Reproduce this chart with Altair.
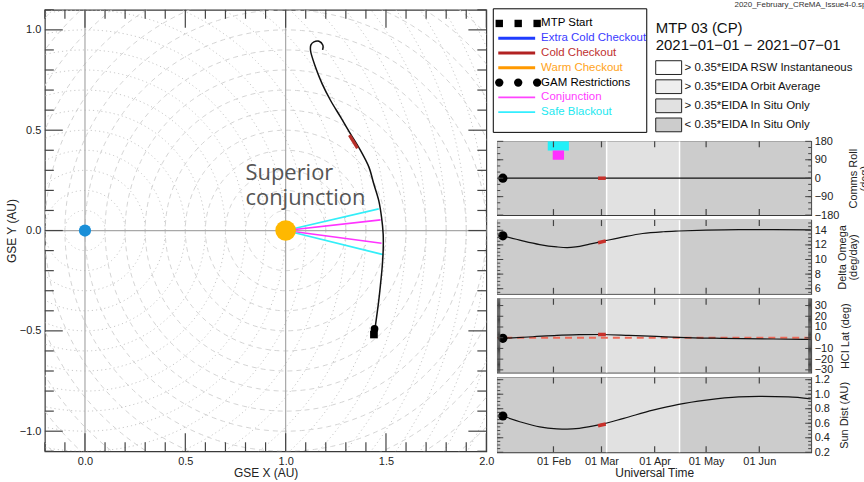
import altair as alt
import numpy as np
import pandas as pd

FONT = "Liberation Sans"

# ===================== DATA =====================
# --- spacecraft trajectory in GSE coordinates (AU) ---
traj_x = [1.444, 1.464, 1.473, 1.481, 1.486, 1.486, 1.478, 1.464, 1.439, 1.415,
          1.373, 1.323, 1.274, 1.224, 1.182, 1.149, 1.124, 1.126, 1.141, 1.166, 1.185, 1.184]
traj_y = [-0.498, -0.349, -0.266, -0.183, -0.100, -0.017, 0.066, 0.149, 0.233, 0.316,
          0.399, 0.482, 0.565, 0.648, 0.731, 0.814, 0.897, 0.925, 0.940, 0.943, 0.925, 0.900]
cold_x = [1.318, 1.338, 1.358]
cold_y = [0.475, 0.443, 0.410]
ray_kind = ["Safe Blackout", "Conjunction", "Conjunction", "Safe Blackout"]
ray_end_x = [1.464, 1.473, 1.478, 1.486]
ray_end_y = [0.108, 0.053, -0.063, -0.120]
body_names = ["Earth", "Sun"]
body_x = [0.0, 1.0]
body_y = [0.0, 0.0]
mtp_start_x = [1.440]
mtp_start_y = [-0.518]
gam_x = [1.443]
gam_y = [-0.490]
note_lines = ["Superior", "conjunction"]
note_x = [0.80]
note_y = [0.25]

# --- time panels ---
levels = ["> 0.35*EIDA RSW Instantaneous", "> 0.35*EIDA Orbit Average",
          "> 0.35*EIDA In Situ Only", "< 0.35*EIDA In Situ Only"]
level_colors = ["#ffffff", "#eeeeee", "#e1e1e1", "#cccccc"]
shade_start = ["2020-12-30T06:00:00Z", "2021-03-04T00:00:00Z", "2021-04-15T12:00:00Z"]
shade_end = ["2021-03-04T00:00:00Z", "2021-04-15T12:00:00Z", "2021-07-01T06:00:00Z"]
shade_level = [levels[3], levels[2], levels[3]]
month_starts = ["2021-02-01T00:00:00Z", "2021-03-01T00:00:00Z", "2021-04-01T00:00:00Z",
                "2021-05-01T00:00:00Z", "2021-06-01T00:00:00Z"]

start_date = "2021-01-02T12:00:00Z"
cold_dates = ["2021-02-27T00:00:00Z", "2021-03-03T12:00:00Z"]

roll_dates = [start_date, "2021-07-01T00:00:00Z"]
roll_vals = [0, 0]
roll_cold = [0, 0]
band_name = ["Safe Blackout", "Conjunction"]
band_start = ["2021-01-28T16:00:00Z", "2021-01-31T14:00:00Z"]
band_end = ["2021-02-10T00:00:00Z", "2021-02-07T04:00:00Z"]
band_lo = [135, 90]
band_hi = [180, 135]
band_color = ["#22f0f8", "#ff30ff"]

dom_dates = [start_date, "2021-01-14T00:00:00Z", "2021-01-24T00:00:00Z", "2021-02-03T00:00:00Z",
             "2021-02-09T00:00:00Z", "2021-02-14T00:00:00Z", "2021-02-22T00:00:00Z",
             "2021-03-02T00:00:00Z", "2021-03-14T00:00:00Z", "2021-03-25T00:00:00Z",
             "2021-04-06T00:00:00Z", "2021-04-15T00:00:00Z", "2021-05-01T00:00:00Z",
             "2021-05-20T00:00:00Z", "2021-06-09T00:00:00Z", "2021-07-01T00:00:00Z"]
dom_vals = [13.24, 12.55, 12.04, 11.72, 11.63, 11.72, 12.1, 12.5, 13.1, 13.56, 13.8, 13.9,
            14.03, 14.1, 14.1, 14.07]
dom_cold = [12.3, 12.55]

hci_dates = [start_date, "2021-01-20T00:00:00Z", "2021-02-03T00:00:00Z", "2021-02-16T00:00:00Z",
             "2021-02-28T00:00:00Z", "2021-03-17T00:00:00Z", "2021-04-02T00:00:00Z",
             "2021-04-15T00:00:00Z", "2021-05-10T00:00:00Z", "2021-06-09T00:00:00Z",
             "2021-07-01T00:00:00Z"]
hci_vals = [-0.6, 0.9, 2.2, 2.8, 3.0, 2.2, 1.2, 0.3, -0.6, -1.2, -1.6]
hci_cold = [3.0, 3.0]
hci_ref = [0]

sd_dates = [start_date, "2021-01-14T00:00:00Z", "2021-01-24T00:00:00Z", "2021-02-03T00:00:00Z",
            "2021-02-09T00:00:00Z", "2021-02-16T00:00:00Z", "2021-02-28T00:00:00Z",
            "2021-03-14T00:00:00Z", "2021-03-31T00:00:00Z", "2021-04-15T00:00:00Z",
            "2021-05-01T00:00:00Z", "2021-05-20T00:00:00Z", "2021-06-01T00:00:00Z",
            "2021-06-18T00:00:00Z", "2021-07-01T00:00:00Z"]
sd_vals = [0.70, 0.61, 0.55, 0.523, 0.519, 0.53, 0.58, 0.668, 0.78, 0.86, 0.918, 0.963,
           0.97, 0.963, 0.936]
sd_cold = [0.565, 0.59]

# --- legend ---
legend_names = ["MTP Start", "Extra Cold Checkout", "Cold Checkout", "Warm Checkout",
                "GAM Restrictions", "Conjunction", "Safe Blackout"]
legend_text_colors = ["#000000", "#3a3aff", "#c03030", "#ffa31a", "#000000", "#ff3cff", "#22e8f0"]
legend_line_rows = [1, 2, 3, 5, 6]
legend_line_colors = ["#1f3cff", "#b22222", "#ff9900", "#ff44ff", "#33eeff"]
legend_line_widths = [3, 3, 3, 1.6, 1.6]
title_lines = ["MTP 03 (CP)", "2021\u221201\u221201 \u2212 2021\u221207\u221201"]
file_tag = "2020_February_CReMA_Issue4-0.sp"

# ===================== LEFT PANEL =====================
W0 = H0 = 443
xsc = alt.Scale(domain=[-0.2, 2.0], nice=False, zero=False)
ysc = alt.Scale(domain=[-1.1, 1.1], nice=False, zero=False)

theta = np.linspace(0, 2 * np.pi, 241)


def rings(cx, cy, radii, tag):
    rows = []
    for r in radii:
        for k, t in enumerate(theta):
            rows.append({"ring": f"{tag}{r:.1f}", "k": k,
                         "x": cx + r * np.cos(t), "y": cy + r * np.sin(t)})
    return pd.DataFrame(rows)


earth_rings = rings(body_x[0], body_y[0], np.round(np.arange(0.1, 2.35, 0.1), 1), "E")
sun_rings = rings(body_x[1], body_y[1], np.round(np.arange(0.1, 1.75, 0.1), 1), "S")

xaxis_left = alt.Axis(values=[0, 0.5, 1, 1.5, 2], format=".1f", ticks=False, tickSize=0,
                      domain=False, labelPadding=4, labelFlush=False, grid=False,
                      title="GSE X (AU)", titleY=21, titleBaseline="middle")
yaxis_left = alt.Axis(values=[-1, -0.5, 0, 0.5, 1], format=".1f", ticks=False, tickSize=0,
                      domain=False, labelPadding=4, grid=False, labelOverlap=False,
                      title="GSE Y (AU)", titleX=-33, titleY=H0 / 2, titleAngle=270,
                      titleAlign="center", titleBaseline="middle")


def LX(f):
    return alt.X(f, type="quantitative", scale=xsc, axis=xaxis_left)


def LY(f):
    return alt.Y(f, type="quantitative", scale=ysc, axis=yaxis_left)


L = []
L.append(alt.Chart(earth_rings).mark_line(clip=True, color="#c8c8c8", strokeWidth=1,
                                          strokeDash=[1.2, 3]).encode(
    x=LX("x"), y=LY("y"), detail="ring:N", order="k:Q"))
L.append(alt.Chart(sun_rings).mark_line(clip=True, color="#d4d4d4", strokeWidth=1,
                                        strokeDash=[5, 4]).encode(
    x=LX("x"), y=LY("y"), detail="ring:N", order="k:Q"))
# reference lines through Earth and Sun
L.append(alt.Chart(pd.DataFrame({"x": body_x})).mark_rule(color="#a8a8a8", strokeWidth=1.2).encode(
    x=LX("x")))
L.append(alt.Chart(pd.DataFrame({"y": [body_y[0]]})).mark_rule(color="#a8a8a8", strokeWidth=1.2).encode(
    y=LY("y")))

ray_rows = []
ray_col = {"Conjunction": "#ff33ff", "Safe Blackout": "#33eef8"}
for i, (k, ex, ey) in enumerate(zip(ray_kind, ray_end_x, ray_end_y)):
    ray_rows.append({"id": i, "o": 0, "x": body_x[1], "y": body_y[1], "c": ray_col[k]})
    ray_rows.append({"id": i, "o": 1, "x": ex, "y": ey, "c": ray_col[k]})
L.append(alt.Chart(pd.DataFrame(ray_rows)).mark_line(strokeWidth=1.6).encode(
    x=LX("x"), y=LY("y"), detail="id:N", order="o:Q", color=alt.Color("c:N", scale=None)))

traj_df = pd.DataFrame({"x": traj_x, "y": traj_y, "k": range(len(traj_x))})
L.append(alt.Chart(traj_df).mark_line(color="#111111", strokeWidth=1.5,
                                      interpolate="catmull-rom").encode(
    x=LX("x"), y=LY("y"), order="k:Q"))
cold_df = pd.DataFrame({"x": cold_x, "y": cold_y, "k": range(len(cold_x))})
L.append(alt.Chart(cold_df).mark_line(color="#b8302a", strokeWidth=3.2).encode(
    x=LX("x"), y=LY("y"), order="k:Q"))
L.append(alt.Chart(pd.DataFrame({"x": mtp_start_x, "y": mtp_start_y})).mark_square(
    size=60, color="black", opacity=1).encode(x=LX("x"), y=LY("y")))
L.append(alt.Chart(pd.DataFrame({"x": gam_x, "y": gam_y})).mark_circle(
    size=60, color="black", opacity=1).encode(x=LX("x"), y=LY("y")))
bodies = pd.DataFrame({"name": body_names, "x": body_x, "y": body_y,
                       "c": ["#1a8fd8", "#ffb800"], "s": [150, 430]})
L.append(alt.Chart(bodies).mark_circle(opacity=1).encode(
    x=LX("x"), y=LY("y"),
    color=alt.Color("c:N", scale=None), size=alt.Size("s:Q", scale=None)))
L.append(alt.Chart(pd.DataFrame({"x": note_x, "y": note_y})).mark_text(
    text=note_lines, align="left", baseline="alphabetic", font="Open Sans", fontSize=22,
    lineHeight=25, color="#555555").encode(x=LX("x"), y=LY("y")))

# inward tick marks (major every 0.5, minor every 0.1)
xt = np.round(np.arange(-0.2, 2.0001, 0.1), 2)
yt = np.round(np.arange(-1.1, 1.1001, 0.1), 2)
xt_major = [v for v in xt if abs(v * 2 - round(v * 2)) < 1e-6]
xt_minor = [v for v in xt if v not in xt_major]
yt_major = [v for v in yt if abs(v * 2 - round(v * 2)) < 1e-6]
yt_minor = [v for v in yt if v not in yt_major]
TICK = "#444444"
for vals, ln in [(xt_major, 18), (xt_minor, 9)]:
    d = pd.DataFrame({"x": vals})
    L.append(alt.Chart(d).mark_rule(color=TICK, strokeWidth=1.2).encode(
        x=LX("x"), y=alt.value(H0 - ln), y2=alt.value(H0)))
    L.append(alt.Chart(d).mark_rule(color=TICK, strokeWidth=1.2).encode(
        x=LX("x"), y=alt.value(0), y2=alt.value(ln)))
for vals, ln in [(yt_major, 18), (yt_minor, 9)]:
    d = pd.DataFrame({"y": vals})
    L.append(alt.Chart(d).mark_rule(color=TICK, strokeWidth=1.2).encode(
        y=LY("y"), x=alt.value(0), x2=alt.value(ln)))
    L.append(alt.Chart(d).mark_rule(color=TICK, strokeWidth=1.2).encode(
        y=LY("y"), x=alt.value(W0 - ln), x2=alt.value(W0)))

left = alt.layer(*L).properties(width=W0, height=H0)

# ===================== TIME PANELS =====================
PW = 315
tsc = alt.Scale(type="utc", nice=False, domain=[
    alt.DateTime(year=2020, month=12, date=30, hours=6, utc=True),
    alt.DateTime(year=2021, month=7, date=1, hours=6, utc=True)])
level_scale = alt.Scale(domain=levels, range=level_colors)

shade_df = pd.DataFrame({"t": shade_start, "end": shade_end, "level": shade_level})
bound_df = pd.DataFrame({"t": shade_start[1:]})
month_df = pd.DataFrame({"t": month_starts})


def panel(h, ydom, labels, minor, title, title_x, dates, vals, cold_vals, fmt,
          extra=None, bottom=False, minor_len=3):
    ysc_p = alt.Scale(domain=ydom, nice=False, zero=False)
    if bottom:
        xax = alt.Axis(values=[alt.DateTime(year=2021, month=m, date=1, utc=True) for m in [2, 3, 4, 5, 6]],
                       labelExpr="utcFormat(datum.value, '%d %b')", ticks=False, tickSize=0,
                       domain=False, labelPadding=3, labelFlush=False, labelOverlap=False,
                       grid=False, title="Universal Time", titleY=20, titleBaseline="middle")
    else:
        xax = None
    yax = alt.Axis(orient="right", values=labels, format=fmt, ticks=False, tickSize=0,
                   domain=False, labelPadding=3, grid=False, labelOverlap=False,
                   labelBound=False, labelFontSize=11,
                   title=title, titleAngle=270, titleX=title_x, titleY=h / 2,
                   titleAlign="center", titleBaseline="top", titleFontSize=11,
                   titleLineHeight=11.5)

    def Xn(f):
        return alt.X(f, type="temporal", scale=tsc, axis=xax)

    def Yn(f):
        return alt.Y(f, type="quantitative", scale=ysc_p, axis=yax)

    layers = [
        alt.Chart(shade_df).mark_rect().encode(
            x=Xn("t"), x2="end:T",
            y=alt.value(0), y2=alt.value(h),
            color=alt.Color("level:N", scale=level_scale, legend=None)),
        alt.Chart(bound_df).mark_rule(color="white", strokeWidth=1.5).encode(
            x=Xn("t"), y=alt.value(0), y2=alt.value(h)),
    ]
    if extra is not None:
        layers += extra(Xn, Yn)
    sdf = pd.DataFrame({"t": dates, "v": vals})
    layers.append(alt.Chart(sdf).mark_line(color="#111111", strokeWidth=1.2,
                                           interpolate="monotone").encode(
        x=Xn("t"), y=Yn("v")))
    cdf = pd.DataFrame({"t": cold_dates, "v": cold_vals})
    layers.append(alt.Chart(cdf).mark_line(color="#c8302a", strokeWidth=3.5).encode(
        x=Xn("t"), y=Yn("v")))
    layers.append(alt.Chart(pd.DataFrame({"t": [dates[0]], "v": [vals[0]]})).mark_circle(
        size=85, color="black", opacity=1).encode(x=Xn("t"), y=Yn("v")))
    # inward ticks
    for d_, ln in [(labels, 6), (minor, minor_len)]:
        dd = pd.DataFrame({"v": d_})
        layers.append(alt.Chart(dd).mark_rule(color=TICK, strokeWidth=1).encode(
            y=Yn("v"), x=alt.value(0), x2=alt.value(ln)))
        layers.append(alt.Chart(dd).mark_rule(color=TICK, strokeWidth=1).encode(
            y=Yn("v"), x=alt.value(PW - ln), x2=alt.value(PW)))
    layers.append(alt.Chart(month_df).mark_rule(color=TICK, strokeWidth=1.2).encode(
        x=Xn("t"), y=alt.value(0), y2=alt.value(6)))
    layers.append(alt.Chart(month_df).mark_rule(color=TICK, strokeWidth=1.2).encode(
        x=Xn("t"), y=alt.value(h - 6), y2=alt.value(h)))
    return alt.layer(*layers).properties(width=PW, height=h)


def roll_extra(Xn, Yn):
    bdf = pd.DataFrame({"name": band_name, "t": band_start, "end": band_end,
                        "v": band_lo, "hi": band_hi, "c": band_color})
    return [alt.Chart(bdf).mark_rect().encode(
        x=Xn("t"), x2="end:T", y=Yn("v"), y2="hi:Q", color=alt.Color("c:N", scale=None))]


def hci_extra(Xn, Yn):
    return [alt.Chart(pd.DataFrame({"v": hci_ref})).mark_rule(
        color="#ee6a58", strokeWidth=2, strokeDash=[7, 5]).encode(y=Yn("v"))]


p1 = panel(74, [-180, 180], [-180, -90, 0, 90, 180], list(range(-150, 180, 30)),
           ["Comms Roll", "(deg)"], 36, roll_dates, roll_vals, roll_cold, "d", extra=roll_extra)
p2 = panel(74, [5.3, 15.4], [6, 8, 10, 12, 14], list(np.arange(5.5, 15.01, 0.5)),
           ["Delta Omega", "(deg/day)"], 25, dom_dates, dom_vals, dom_cold, "d")
p3 = panel(74, [-32.5, 36.3], [-30, -20, -10, 0, 10, 20, 30], list(range(-32, 37, 1)),
           "HCI Lat (deg)", 28, hci_dates, hci_vals, hci_cold, "d", extra=hci_extra)
p4 = panel(75, [0.2, 1.23], [0.2, 0.4, 0.6, 0.8, 1.0, 1.2],
           list(np.round(np.arange(0.25, 1.23, 0.05), 2)),
           "Sun Dist (AU)", 27, sd_dates, sd_vals, sd_cold, ".1f", bottom=True)

# ===================== LEGEND AREA =====================
rows_scale = alt.Scale(domain=[0, 6], range=[13.7, 102.7])
sw_scale = alt.Scale(domain=[0, 3], range=[58, 115.5])
one = pd.DataFrame({"a": [0]})
G = []
G.append(alt.Chart(one).mark_rect(fill="white", stroke="black", strokeWidth=1).encode(
    x=alt.value(-4), x2=alt.value(150), y=alt.value(-1), y2=alt.value(123)))
leg_df = pd.DataFrame({"row": range(len(legend_names)), "name": legend_names,
                       "tc": legend_text_colors})
G.append(alt.Chart(leg_df).mark_text(align="left", baseline="middle", fontSize=11.5,
                                     font=FONT).encode(
    x=alt.value(44), y=alt.Y("row:Q", scale=rows_scale, axis=None), text="name:N",
    color=alt.Color("tc:N", scale=None)))
ll_df = pd.DataFrame({"row": legend_line_rows, "c": legend_line_colors, "w": legend_line_widths})
G.append(alt.Chart(ll_df).mark_rule().encode(
    x=alt.value(1), x2=alt.value(38), y=alt.Y("row:Q", scale=rows_scale, axis=None),
    color=alt.Color("c:N", scale=None), strokeWidth=alt.StrokeWidth("w:Q", scale=None)))
slot_scale = alt.Scale(domain=[0, 2], range=[2, 40])
G.append(alt.Chart(pd.DataFrame({"slot": [0, 1, 2], "row": [0, 0, 0]})).mark_square(
    size=55, color="black", opacity=1).encode(
    x=alt.X("slot:Q", scale=slot_scale, axis=None), y=alt.Y("row:Q", scale=rows_scale, axis=None)))
G.append(alt.Chart(pd.DataFrame({"slot": [0, 1, 2], "row": [4, 4, 4]})).mark_circle(
    size=70, color="black", opacity=1).encode(
    x=alt.X("slot:Q", scale=slot_scale, axis=None), y=alt.Y("row:Q", scale=rows_scale, axis=None)))
sw_df = pd.DataFrame({"idx": range(4), "level": levels})
sw_df["top"] = sw_df["idx"] - 0.36
sw_df["bot"] = sw_df["idx"] + 0.36
G.append(alt.Chart(sw_df).mark_rect(stroke="#222222", strokeWidth=1).encode(
    x=alt.value(159), x2=alt.value(185),
    y=alt.Y("top:Q", scale=sw_scale, axis=None), y2="bot:Q",
    color=alt.Color("level:N", scale=level_scale, legend=None)))
G.append(alt.Chart(sw_df).mark_text(align="left", baseline="middle", fontSize=11.5,
                                    font=FONT, color="#111111").encode(
    x=alt.value(188), y=alt.Y("idx:Q", scale=sw_scale, axis=None), text="level:N"))
G.append(alt.Chart(one).mark_text(text=title_lines, align="left", baseline="middle",
                                  fontSize=15, lineHeight=17, font=FONT, color="#111111").encode(
    x=alt.value(159), y=alt.value(18)))
G.append(alt.Chart(one).mark_text(text=file_tag, align="left", baseline="top",
                                  fontSize=8, font=FONT, color="#333333").encode(
    x=alt.value(238), y=alt.value(-9)))
legend_area = alt.layer(*G).resolve_scale(y="independent").properties(
    width=PW, height=127, view=alt.ViewBackground(strokeWidth=0))

right = alt.vconcat(legend_area, p1, p2, p3, p4, spacing=5, bounds="flush")
chart = alt.hconcat(left, right, spacing=11, bounds="flush").properties(
    padding={"left": 5, "top": 0, "right": -7, "bottom": 0}
).configure(font=FONT).configure_view(stroke="#3a3a3a", strokeWidth=1.2).configure_axis(
    labelFont=FONT, titleFont=FONT, labelFontSize=11, titleFontSize=12,
    labelColor="#222222", titleColor="#222222", titleFontWeight="normal")

chart.save("out.html", embed_options={"renderer": "svg", "actions": False})
